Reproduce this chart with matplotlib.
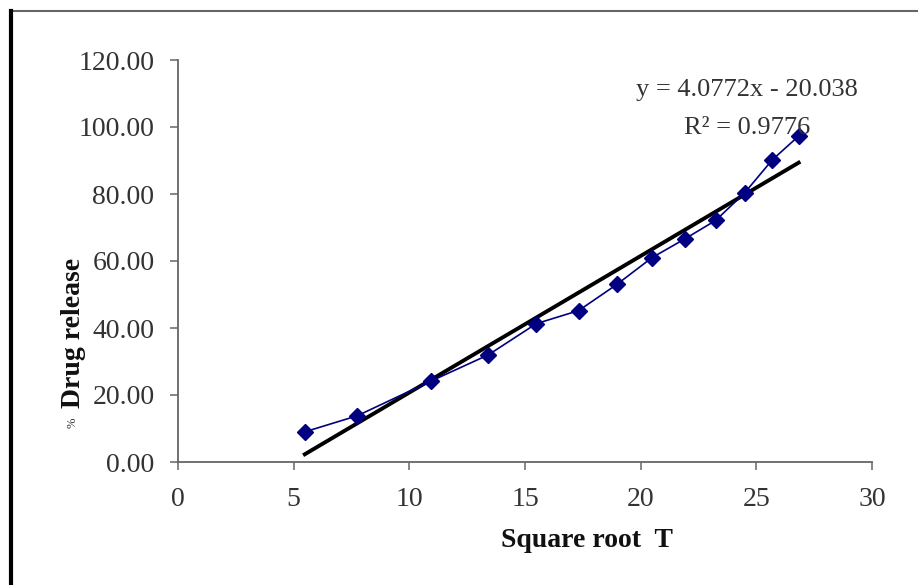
import numpy as np
import matplotlib.pyplot as plt
from matplotlib.lines import Line2D

# sqrt(time) vs cumulative % drug release
sqrt_t = [5.48, 7.75, 10.95, 13.42, 15.49, 17.32, 18.97, 20.49, 21.91, 23.24, 24.49, 25.69, 26.83]
release = [9.0, 13.8, 24.2, 32.0, 41.3, 45.2, 53.0, 61.0, 66.6, 72.1, 80.3, 90.2, 97.3]

slope = 4.0772
intercept = -20.038
eq_text = "y = 4.0772x - 20.038"
r2_text = "R² = 0.9776"

x_ticks = [0, 5, 10, 15, 20, 25, 30]
y_ticks = [0, 20, 40, 60, 80, 100, 120]

plt.rcParams['font.family'] = ['Liberation Serif', 'DejaVu Serif']

fig = plt.figure(figsize=(9.18, 5.85), dpi=100)
ax = fig.add_axes([178 / 918, 123 / 585, 694 / 918, 402 / 585])

ax.plot(sqrt_t, release, color='#000080', lw=1.2, marker='D', markersize=8.5,
        markerfacecolor='#000080', markeredgecolor='#000080', zorder=3)

fit_x = np.array([sqrt_t[0], sqrt_t[-1]])
ax.plot(fit_x, slope * fit_x + intercept, color='black', lw=2.8, zorder=2)

ax.text(24.6, 111.0, eq_text, ha='center', va='center', fontsize=19, color='#333333')
ax.text(24.6, 99.7, r2_text, ha='center', va='center', fontsize=19, color='#333333')

ax.set_xlim(0, 30)
ax.set_ylim(0, 120)
ax.set_xticks(x_ticks)
ax.set_yticks(y_ticks)
ax.set_yticklabels(["%.2f" % v for v in y_ticks])

for s in ['top', 'right']:
    ax.spines[s].set_visible(False)
for s in ['left', 'bottom']:
    ax.spines[s].set_color('#666666')
    ax.spines[s].set_linewidth(1.3)

ax.tick_params(axis='both', direction='out', length=6, width=1.1, colors='#666666',
               labelcolor='#333333', labelsize=20)
ax.tick_params(axis='x', pad=12)
ax.tick_params(axis='y', pad=11)

fig.text(587 / 918, (585 - 547) / 585, "Square root  T", ha='center', va='baseline',
         fontsize=20, fontweight='bold', color='#111111')
fig.text(73 / 918, (585 - 333) / 585, "Drug release", ha='center', va='center',
         rotation=90, fontsize=20, fontweight='bold', color='#111111')
fig.text(73 / 918, (585 - 423) / 585, "%", ha='center', va='center',
         rotation=90, fontsize=9, color='#333333')

# picture frame (top and left edges only)
fig.add_artist(Line2D([10 / 918, 1], [1 - 11 / 585, 1 - 11 / 585], color='#666666', lw=1.5,
                      transform=fig.transFigure))
fig.add_artist(Line2D([11 / 918, 11 / 918], [0, 1 - 11 / 585], color='black', lw=3,
                      transform=fig.transFigure))

fig.savefig('out.png', dpi=100)
